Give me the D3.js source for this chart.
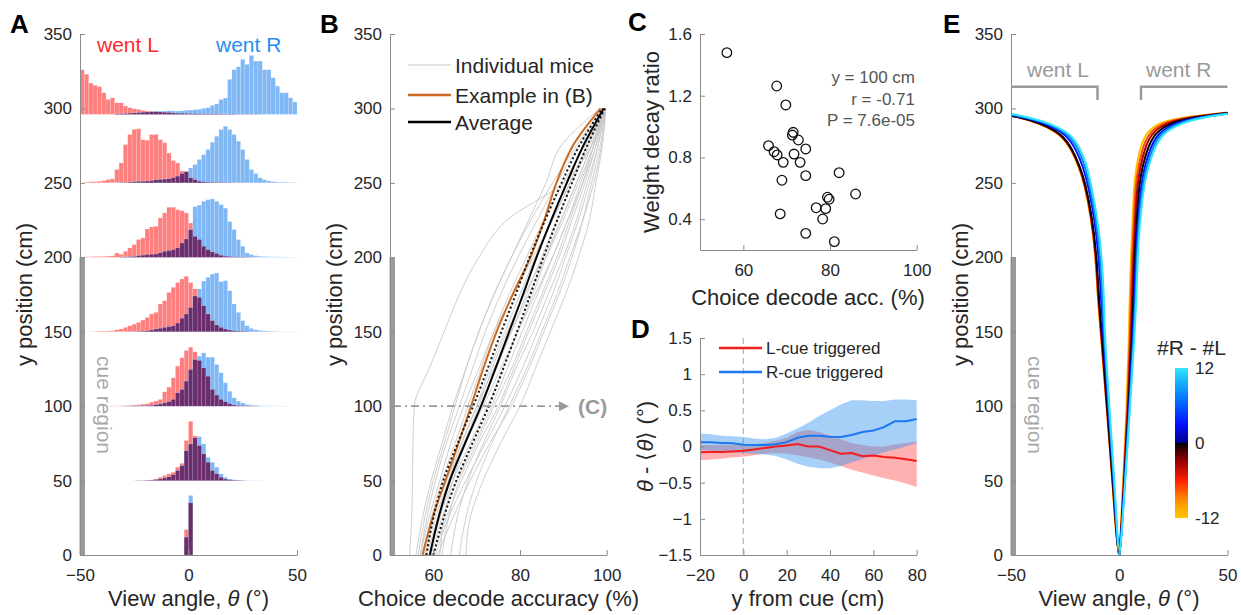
<!DOCTYPE html>
<html>
<head>
<meta charset="utf-8">
<script src="https://cdn.jsdelivr.net/npm/d3@7"></script>
<style>
  body { margin: 0; background: #fff; }
  svg { display: block; font-family: "Liberation Sans", Arial, sans-serif; }
  .axis path, .axis line { stroke: #8c8c8c; stroke-width: 1; }
  .axis text { fill: #262626; }
</style>
</head>
<body>
<svg id="fig" width="1241" height="615"></svg>
<script>
// ---------- panel A: view angle histograms (bins of 2 deg, -50..50) ----------
const rowBase = [0, 50, 100, 150, 200, 250, 296];
const red0 = [0,0,0,0,0,0,0,0,0,0, 0,0,0,0,0,0,0,0,0,0, 0,0,0,0,17,35,0,0,0,0, 0,0,0,0,0,0,0,0,0,0, 0,0,0,0,0,0,0,0,0,0];
const blue0 = [0,0,0,0,0,0,0,0,0,0, 0,0,0,0,0,0,0,0,0,0, 0,0,0,0,12,40,0,0,0,0, 0,0,0,0,0,0,0,0,0,0, 0,0,0,0,0,0,0,0,0,0];
const red50 = [0,0,0,0,0,0,0,0,0,0, 0,0,0.1,0.1,0.2,0.3,0.5,1.1,2.2,3.4, 4.5,5.6,9,11.6,26.9,39.8,30,23.5,17.9,12.3, 6.7,4.5,2.2,1,0.5,0.3,0.2,0.1,0,0, 0,0,0,0,0,0,0,0,0,0];
const blue50 = [0,0,0,0,0,0,0,0,0,0, 0,0,0,0.1,0.1,0.2,0.3,0.7,1.1,1.8, 2.5,4,6.7,10,20,24.6,28.7,29.5,24.6,15.7, 12.3,9,4.5,2.2,1,0.6,0.4,0.3,0.2,0.1, 0.1,0.1,0,0,0,0,0,0,0,0];
const red100 = [0,0,0,0,0,0.1,0.1,0.2,0.2,0.3, 0.4,0.5,0.7,1,1.3,1.6,2.7,3.4,4.5,9.6, 12.8,19,26.9,32.5,37.4,39.6,36.5,30.7,25.7,20.1, 11.2,7.4,4.5,2.9,1.6,0.7,0.4,0.3,0.2,0.1, 0.1,0,0,0,0,0,0,0,0,0];
const blue100 = [0,0,0,0,0,0,0,0,0,0, 0.1,0.1,0.2,0.2,0.3,0.4,0.6,1,1.5,2.2, 3,4.5,9,11.2,16.8,24.6,31.3,33.6,35.8,32.9, 32.9,28,22.4,15.7,10,5.6,3.4,2.2,1.1,0.7, 0.5,0.4,0.3,0.2,0.2,0.1,0.1,0.1,0,0];
const red150 = [0,0,0.1,0.2,0.3,0.4,0.5,0.7,1.3,1.8, 2.9,4,5.1,6.3,7.8,9.6,11.9,13,18.6,20.8, 26.4,29.8,33,35.4,37.2,33,28.7,23,17.5,11.9, 7.4,4.5,2.9,1.8,1.1,0.6,0.4,0.3,0.2,0.1, 0.1,0,0,0,0,0,0,0,0,0];
const blue150 = [0,0,0,0,0,0,0,0,0,0, 0,0.1,0.1,0.2,0.3,0.7,1.2,1.8,2.3,2.9, 3.4,4,5.8,9,11.9,16.3,24,28.7,34,36.5, 38.7,39.4,33.6,34.3,27.5,18.6,13,7.4,4,2.2, 1.3,0.9,0.6,0.4,0.3,0.2,0.1,0.1,0.1,0.1];
const red200 = [0.3,0.3,0.4,0.5,0.5,0.6,0.8,1,2.9,2, 4,6.3,8.5,11.9,13,19,20.4,20.8,26.4,29.8, 33.6,33.6,32,31.3,29.8,23,14,11.9,7.4,5.1, 3.6,2.5,1.4,0.7,0.5,0.3,0.2,0.2,0.1,0.1, 0,0,0,0,0,0,0,0,0,0];
const blue200 = [0,0,0,0,0,0,0,0,0,0.2, 0.3,0.4,0.5,1.1,1.4,1.8,2,2.2,3,4, 4.5,5.1,6.3,9.6,12.3,18.6,34,35,37.6,38.7, 39.2,37.6,35.4,33,24,18.6,11.9,7.4,2.9,1.8, 1.1,0.7,0.5,0.4,0.3,0.3,0.2,0.2,0.1,0.1];
const red250 = [0,0.5,0.8,0.8,1,1.5,2.2,2.7,9,13.4, 25.7,32.5,36,36.4,29,28.6,32.5,32.5,29,27, 20,15,13.4,8,7.5,3.4,2.2,1.1,0.7,0.5, 0.4,0.3,0.3,0.2,0.2,0.1,0.1,0,0,0, 0,0,0,0,0,0,0,0,0,0];
const blue250 = [0,0,0,0,0,0,0,0,0.1,0.2, 0.3,0.5,0.7,1,1,1.2,1.5,2,2.2,2.5, 2.7,3.5,4.5,6.3,7.5,10,12.3,15.7,19,22.4, 27.3,31.3,35.8,38,35.8,32.5,28,22.4,15.7,9, 6.3,3.4,2.2,1.3,0.9,0.6,0.5,0.4,0.3,0.2];
const red300 = [30,27,21,19.5,18.6,14.5,10,11.2,7.8,7.8, 5.6,4.5,3.8,3.4,2.7,2.2,2,1.8,1.6,1.4, 1.2,1,0.8,0.7,0.6,0.5,0.5,0.4,0.4,0.3, 0.3,0.3,0.2,0.2,0.2,0.2,0.1,0.1,0.1,0.1, 0.1,0,0,0,0,0,0,0,0,0];
const blue300 = [0,0,0,0,0,0,0,0,0.3,0.4, 0.6,0.8,1,1.2,1.4,1.6,1.8,2,2.2,2.2, 2.4,2.4,2.2,2.4,2.7,2.9,3.2,3.4,4,4.5, 6,7,10,11,23.5,30,32,37,33.6,39.6, 35.8,35.8,30,30,24.6,19,14.5,14.5,11.2,8.3];
const redRows = [red0, red50, red100, red150, red200, red250, red300];
const blueRows = [blue0, blue50, blue100, blue150, blue200, blue250, blue300];

// ---------- panel B: choice decode accuracy vs y ----------
const yLevB = [0, 25, 50, 75, 100, 125, 150, 175, 200, 225, 250, 275, 300];
const mice = [
  [54.5, 55, 55.2, 55.3, 55.6, 59, 62.5, 66, 70.5, 77, 90, 96.5, 99.5],
  [56, 57.5, 59.5, 62, 64.5, 67.5, 70.5, 74, 78, 82.5, 87.5, 93, 99],
  [57, 58.5, 60.5, 63, 66, 69, 72, 75.5, 79.5, 84, 88.5, 93.5, 99],
  [57.5, 59.5, 62, 65, 68, 71, 74, 77.5, 81.5, 85.5, 90, 95, 99.5],
  [58, 60, 63, 66.5, 70, 73, 76.5, 80, 83.5, 87.5, 91.5, 95.5, 99.5],
  [58.5, 61, 64, 67.5, 71, 74.5, 78, 81.5, 85, 88.5, 92, 96, 99.5],
  [59, 61.5, 64.5, 68.5, 72.5, 76, 79.5, 83, 86, 89.5, 93, 96.5, 99.5],
  [59.5, 62, 65.5, 69.5, 73.5, 77, 80.5, 84, 87.5, 91, 94, 97, 99.5],
  [60, 63, 66.5, 70.5, 75, 78.5, 82, 85.5, 89, 92, 95, 97.5, 99.5],
  [60.5, 63.5, 67.5, 72, 76.5, 80.5, 84, 87.5, 90.5, 93.5, 96, 98, 99.7],
  [61, 64.5, 68.5, 73, 78, 82, 85.5, 89, 92, 94.5, 96.5, 98.5, 99.7],
  [62, 63.5, 66, 70, 74, 78, 81.5, 85, 88.5, 91.5, 94.5, 97, 99.5],
  [64, 65.5, 68, 71.5, 75.5, 79, 83, 86.5, 90, 93, 95.5, 98, 99.7],
  [66, 67.5, 70, 73.5, 77.5, 81.5, 85, 88.5, 91.5, 94.5, 97, 98.8, 99.8],
  [67.5, 68.5, 71.5, 75.5, 80, 83.5, 87, 90.5, 93.5, 96, 97.5, 99, 99.8],
  [57, 59, 61.5, 64, 67, 70.5, 74, 78.5, 83, 87.5, 91.5, 95.5, 99.5],
  [58, 60.5, 63.5, 67, 70.5, 73.5, 77, 81, 85.5, 89.5, 93, 96.5, 99.5],
  [56.5, 58, 60, 62.5, 65, 67.5, 70.5, 74, 78, 82, 86, 89.5, 98.5],
  [59, 61, 63.5, 66.5, 70, 74, 78, 82, 86, 90, 93.5, 97, 99.7],
  [61.5, 62.5, 64.5, 67.5, 71.5, 75.5, 79.5, 83.5, 87.5, 91, 94.5, 97.5, 99.7]
];
const exampleB = [57.5, 59.8, 62.8, 65.8, 68.7, 71.5, 74.6, 78.3, 82.4, 85.6, 88.4, 92.2, 98.6];
const avgB = [59.2, 61.2, 63.8, 67.3, 71.0, 74.3, 77.5, 80.7, 83.8, 87.2, 90.8, 94.6, 99.3];
const semB = [0.8, 1.2, 1.5, 1.7, 1.8, 1.8, 1.8, 1.7, 1.6, 1.4, 1.2, 0.9, 0.3];

// ---------- panel C: weight decay ratio vs decode accuracy ----------
const accC = [56.2, 67.7, 69.8, 71.5, 71.3, 72.7, 65.8, 74.4, 67.1, 67.8, 71.7, 69.2, 73.1, 74.4, 82.1, 68.9, 85.9, 79.4, 79.8, 76.8, 79.0, 78.3, 68.5, 74.4, 81.0];
const ratioC = [1.479, 1.263, 1.14, 0.963, 0.945, 0.913, 0.876, 0.855, 0.837, 0.816, 0.822, 0.768, 0.768, 0.682, 0.701, 0.652, 0.563, 0.542, 0.529, 0.474, 0.468, 0.401, 0.434, 0.308, 0.254];
const statsC = ["y = 100 cm", "r = -0.71", "P = 7.6e-05"];

// ---------- panel D: cue-triggered view angle ----------
const yCue = [-20, -15, -10, -5, 0, 5, 10, 15, 20, 25, 30, 35, 40, 45, 50, 55, 60, 65, 70, 75, 80];
const lMean = [-0.078, -0.077, -0.075, -0.068, -0.06, -0.04, -0.02, 0, 0.015, 0.033, 0, 0, -0.05, -0.1, -0.09, -0.135, -0.125, -0.145, -0.155, -0.175, -0.2];
const lHi = [0.02, 0.02, 0.02, 0.02, 0.02, 0.03, 0.05, 0.08, 0.12, 0.2, 0.23, 0.2, 0.15, 0.1, 0.05, 0.02, 0, 0, 0.03, 0.05, 0.07];
const lLo = [-0.19, -0.18, -0.17, -0.15, -0.14, -0.12, -0.1, -0.09, -0.1, -0.12, -0.15, -0.18, -0.22, -0.27, -0.32, -0.36, -0.4, -0.44, -0.47, -0.51, -0.56];
const rMean = [0.06, 0.058, 0.05, 0.045, 0.025, 0.02, 0.02, 0.03, 0.06, 0.12, 0.15, 0.15, 0.135, 0.13, 0.16, 0.2, 0.22, 0.27, 0.35, 0.35, 0.38];
const rHi = [0.18, 0.17, 0.15, 0.14, 0.13, 0.11, 0.1, 0.12, 0.18, 0.25, 0.33, 0.42, 0.5, 0.58, 0.64, 0.64, 0.63, 0.63, 0.65, 0.65, 0.64];
const rLo = [-0.05, -0.06, -0.07, -0.08, -0.09, -0.1, -0.11, -0.13, -0.18, -0.24, -0.28, -0.3, -0.3, -0.27, -0.22, -0.17, -0.13, -0.08, -0.04, 0, 0.05];

// ---------- panel E: mean view angle by evidence ----------
const yLevE = [0, 10, 50, 100, 150, 172, 200, 227, 250, 261, 272, 283, 290, 294, 297.5];
const evidCols = ["#ffc000", "#ff4a00", "#b00000", "#000000", "#0018ff", "#0a84ff", "#2ee6ff"];
const thetaL = [
  [0, -1.3, -3.2, -5.9, -8.6, -9.9, -10.9, -13.0, -16.3, -18.8, -22.0, -27.2, -37, -45, -60],
  [0, -1.3, -3.1, -5.8, -8.5, -9.8, -10.8, -12.9, -16.1, -18.6, -21.8, -26.9, -36.8, -45, -60],
  [0, -1.2, -3.0, -5.7, -8.3, -9.6, -10.6, -12.7, -15.9, -18.4, -21.6, -26.7, -36.5, -45, -60],
  [0, -1.1, -2.9, -5.6, -8.1, -9.4, -10.4, -12.5, -15.7, -18.2, -21.4, -26.4, -36, -44.5, -60],
  [0, -1.0, -2.6, -5.2, -7.5, -8.4, -9.4, -11.5, -14.6, -16.8, -19.8, -24.5, -34.5, -43.5, -58],
  [0, -0.9, -2.4, -4.9, -7.1, -7.7, -8.7, -10.8, -13.9, -15.8, -18.6, -23.2, -33, -42.5, -56],
  [0, -0.8, -2.2, -4.6, -6.8, -7.0, -8.0, -10.1, -13.2, -14.8, -17.6, -22.1, -32, -41.5, -54]
];
const thetaR = [
  [0, 0.5, 1.8, 3.5, 4.5, 4.8, 5.4, 6.2, 6.9, 8.0, 9.4, 12, 17.4, 28, 52],
  [0, 0.6, 2.0, 3.8, 5.0, 5.3, 5.9, 6.8, 7.6, 8.9, 10.5, 13.3, 19.2, 30, 53],
  [0, 0.7, 2.2, 4.1, 5.5, 5.9, 6.5, 7.4, 8.4, 9.8, 11.6, 14.6, 21, 31.5, 53.5],
  [0, 0.8, 2.4, 4.4, 6.0, 6.5, 7.1, 8.1, 9.3, 10.8, 12.8, 16.1, 23, 33, 54],
  [0, 0.85, 2.5, 4.6, 6.4, 7.0, 7.6, 8.7, 10.2, 11.8, 14.0, 17.5, 25, 35, 55],
  [0, 0.9, 2.65, 4.8, 6.8, 7.5, 8.1, 9.2, 10.9, 12.7, 15.0, 18.6, 26.7, 36.5, 55.5],
  [0, 1.0, 2.8, 5.0, 7.2, 7.9, 8.5, 9.7, 11.6, 13.5, 15.9, 19.7, 28.2, 38, 56]
];
const cbVals = [-12, -9, -6, -3, 0, 0, 3, 6, 9, 12];
const cbCols = ["#ffc800", "#ff8a00", "#ff2000", "#9a0000", "#000000", "#00008a", "#0010ff", "#005cff", "#10a0ff", "#30e8ff"];

// ---------- drawing ----------
const svg = d3.select("#fig");
const GREY = "#9a9a9a";

function leftAxis(scale, ticks, x, fmt) {
  svg.append("g").attr("class", "axis").attr("transform", `translate(${x},0)`)
    .call(d3.axisLeft(scale).tickValues(ticks).tickSizeInner(-5).tickSizeOuter(0).tickPadding(8).tickFormat(fmt || d3.format("")))
    .attr("font-size", 17).attr("font-family", null);
}
function bottomAxis(scale, ticks, y, fmt) {
  svg.append("g").attr("class", "axis").attr("transform", `translate(0,${y})`)
    .call(d3.axisBottom(scale).tickValues(ticks).tickSizeInner(-5).tickSizeOuter(0).tickPadding(14).tickFormat(fmt || d3.format("")))
    .attr("font-size", 17).attr("font-family", null);
}
function label(x, y, parts, opts = {}) {
  const t = svg.append("text").attr("x", x).attr("y", y)
    .attr("font-size", opts.size || 22).attr("fill", opts.fill || "#262626")
    .attr("text-anchor", opts.anchor || "middle");
  if (opts.bold) t.attr("font-weight", "bold");
  if (opts.rot) t.attr("transform", `rotate(${opts.rot},${x},${y})`);
  parts.forEach(p => {
    const s = t.append("tspan").text(Array.isArray(p) ? p[0] : p);
    if (Array.isArray(p) && p[1]) s.attr("font-style", "italic");
  });
  return t;
}
function cueBar(xs, ys) {
  svg.append("rect").attr("x", xs.range()[0] - 0.5).attr("y", ys(200))
    .attr("width", 5.5).attr("height", ys(0) - ys(200)).attr("fill", GREY);
}

const yPos = d3.scaleLinear().domain([0, 350]).range([555, 34]);
const yTicks = [0, 50, 100, 150, 200, 250, 300, 350];

// ----- A -----
const xA = d3.scaleLinear().domain([-50, 50]).range([80, 297]);
const binLo = d3.range(-50, 50, 2);
const gA = svg.append("g");
rowBase.forEach((b, r) => {
  const red = redRows[r], blue = blueRows[r];
  const bars = binLo.map((lo, i) => ({ lo, red: red[i], blue: blue[i], both: Math.min(red[i], blue[i]) }))
    .filter(d => d.red > 0 || d.blue > 0);
  [["red", "#ff7f7f"], ["blue", "#80b8f6"], ["both", "#6b2d6b"]].forEach(([k, col]) => {
    gA.selectAll(null).data(bars.filter(d => d[k] > 0)).join("rect")
      .attr("x", d => xA(d.lo)).attr("width", d => xA(d.lo + 2) - xA(d.lo))
      .attr("y", d => yPos(b + d[k])).attr("height", d => yPos(b) - yPos(b + d[k]))
      .attr("fill", col).attr("stroke", "#fff").attr("stroke-opacity", 0.35).attr("stroke-width", 0.4);
  });
});
cueBar(xA, yPos);
leftAxis(yPos, yTicks, 80);
bottomAxis(xA, [-50, 0, 50], 555);
label(97, 52, ["went L"], { anchor: "start", size: 21, fill: "#ff2b2b" });
label(216, 52, ["went R"], { anchor: "start", size: 21, fill: "#2a8cf0" });
label(97, 405, ["cue region"], { rot: 90, size: 21, fill: "#a8a8a8" });
label(32, 294.5, ["y position (cm)"], { rot: -90 });
label(188.5, 606, ["View angle, ", ["θ", true], " (°)"]);
label(10, 33, ["A"], { anchor: "start", size: 26, bold: true, fill: "#000" });

// ----- B -----
const xB = d3.scaleLinear().domain([50, 100]).range([390, 606.7]);
const lineB = d3.line().x(d => xB(d[0])).y(d => yPos(d[1])).curve(d3.curveMonotoneY);
const zipB = arr => arr.map((v, i) => [v, yLevB[i]]);
mice.forEach(m => svg.append("path").attr("d", lineB(zipB(m)))
  .attr("fill", "none").attr("stroke", "#c8c8c8").attr("stroke-width", 0.9));
svg.append("path").attr("d", lineB(zipB(exampleB))).attr("fill", "none").attr("stroke", "#cc6a1f").attr("stroke-width", 2);
[-1, 1].forEach(s => svg.append("path").attr("d", lineB(zipB(avgB.map((v, i) => v + s * semB[i]))))
  .attr("fill", "none").attr("stroke", "#111").attr("stroke-width", 2).attr("stroke-dasharray", "2,2.5"));
svg.append("path").attr("d", lineB(zipB(avgB))).attr("fill", "none").attr("stroke", "#000").attr("stroke-width", 2);
cueBar(xB, yPos);
leftAxis(yPos, yTicks, 390);
bottomAxis(xB, [60, 80, 100], 555);
svg.append("line").attr("x1", 393).attr("x2", 560).attr("y1", yPos(100)).attr("y2", yPos(100))
  .attr("stroke", GREY).attr("stroke-width", 1.6).attr("stroke-dasharray", "8,4,2,4");
svg.append("path").attr("d", `M559,${yPos(100) - 5}L569,${yPos(100)}L559,${yPos(100) + 5}Z`).attr("fill", GREY);
label(578, 414, ["(C)"], { anchor: "start", size: 21, bold: true, fill: GREY });
const legB = [["Individual mice", "#c8c8c8", 1, 65], ["Example in (B)", "#cc6a1f", 2.5, 95], ["Average", "#000", 2.5, 122]];
legB.forEach(([t, c, w, y]) => {
  svg.append("line").attr("x1", 408).attr("x2", 451).attr("y1", y).attr("y2", y).attr("stroke", c).attr("stroke-width", w);
  label(455, y + 7.5, [t], { anchor: "start", size: 21 });
});
label(342, 294.5, ["y position (cm)"], { rot: -90 });
label(498.5, 606, ["Choice decode accuracy (%)"]);
label(320, 33, ["B"], { anchor: "start", size: 26, bold: true, fill: "#000" });

// ----- C -----
const xC = d3.scaleLinear().domain([50, 100]).range([700, 916.7]);
const yC = d3.scaleLinear().domain([0.2, 1.6]).range([250, 34]);
leftAxis(yC, [0.4, 0.8, 1.2, 1.6], 700, d3.format(".1f"));
bottomAxis(xC, [60, 80, 100], 250);
svg.append("g").selectAll("circle").data(accC.map((a, i) => [a, ratioC[i]])).join("circle")
  .attr("cx", d => xC(d[0])).attr("cy", d => yC(d[1])).attr("r", 4.8)
  .attr("fill", "none").attr("stroke", "#111").attr("stroke-width", 1.3);
statsC.forEach((s, i) => label(915, 83 + i * 21.5, [s], { anchor: "end", size: 17, fill: "#555" }));
label(659, 142, ["Weight decay ratio"], { rot: -90 });
label(808, 305, ["Choice decode acc. (%)"]);
label(628, 31, ["C"], { anchor: "start", size: 26, bold: true, fill: "#000" });

// ----- D -----
const xD = d3.scaleLinear().domain([-20, 80]).range([700, 916.7]);
const yD = d3.scaleLinear().domain([-1.5, 1.5]).range([555, 338]);
const areaD = (lo, hi) => d3.area().x((d, i) => xD(yCue[i])).y0((d, i) => yD(lo[i])).y1((d, i) => yD(hi[i]))(yCue);
const lineD = vals => d3.line().x((d, i) => xD(yCue[i])).y(d => yD(d))(vals);
svg.append("line").attr("x1", xD(0)).attr("x2", xD(0)).attr("y1", 338).attr("y2", 555)
  .attr("stroke", "#b4b4b4").attr("stroke-width", 1.2).attr("stroke-dasharray", "6,4");
svg.append("path").attr("d", areaD(lLo, lHi)).attr("fill", "#ff5050").attr("fill-opacity", 0.45);
svg.append("path").attr("d", areaD(rLo, rHi)).attr("fill", "#3c96f0").attr("fill-opacity", 0.45);
svg.append("path").attr("d", lineD(lMean)).attr("fill", "none").attr("stroke", "#f21d1d").attr("stroke-width", 2);
svg.append("path").attr("d", lineD(rMean)).attr("fill", "none").attr("stroke", "#1a78f0").attr("stroke-width", 2);
leftAxis(yD, [-1.5, -1, -0.5, 0, 0.5, 1, 1.5], 700, d => d3.format("")(d));
bottomAxis(xD, [-20, 0, 20, 40, 60, 80], 555);
[["L-cue triggered", "#f21d1d", 348], ["R-cue triggered", "#1a78f0", 372]].forEach(([t, c, y]) => {
  svg.append("line").attr("x1", 719).attr("x2", 762).attr("y1", y).attr("y2", y).attr("stroke", c).attr("stroke-width", 2.5);
  label(766, y + 6, [t], { anchor: "start", size: 17 });
});
label(653, 446.5, [["θ", true], " - ⟨", ["θ", true], "⟩ (°)"], { rot: -90 });
label(808, 606, ["y from cue (cm)"]);
label(631, 338, ["D"], { anchor: "start", size: 26, bold: true, fill: "#000" });

// ----- E -----
const xE = d3.scaleLinear().domain([-50, 50]).range([1011, 1227.5]);
svg.append("clipPath").attr("id", "clipE").append("rect")
  .attr("x", 1011).attr("y", 34).attr("width", 216.5).attr("height", 521);
const lineE = d3.line().x(d => xE(d[0])).y(d => yPos(d[1])).curve(d3.curveBasis);
const gE = svg.append("g").attr("clip-path", "url(#clipE)");
[thetaL, thetaR].forEach(side => side.forEach((th, j) => {
  gE.append("path").attr("d", lineE(th.map((v, i) => [v, yLevE[i]])))
    .attr("fill", "none").attr("stroke", evidCols[j]).attr("stroke-width", 2);
}));
cueBar(xE, yPos);
leftAxis(yPos, yTicks, 1011);
bottomAxis(xE, [-50, 0, 50], 555);
svg.append("path").attr("d", "M1011,86.7H1097.5V100").attr("fill", "none").attr("stroke", GREY).attr("stroke-width", 2.5);
svg.append("path").attr("d", "M1141,100V86.7H1227.5").attr("fill", "none").attr("stroke", GREY).attr("stroke-width", 2.5);
label(1027, 76.5, ["went L"], { anchor: "start", size: 21, fill: GREY });
label(1146, 76.5, ["went R"], { anchor: "start", size: 21, fill: GREY });
label(1028, 405, ["cue region"], { rot: 90, size: 21, fill: "#a8a8a8" });
// colour bar
const grad = svg.append("defs").append("linearGradient").attr("id", "cbar")
  .attr("x1", 0).attr("y1", 1).attr("x2", 0).attr("y2", 0);
cbVals.forEach((v, i) => grad.append("stop").attr("offset", (v + 12) / 24).attr("stop-color", cbCols[i]));
const yCb = d3.scaleLinear().domain([-12, 12]).range([518, 368]);
svg.append("rect").attr("x", 1175).attr("y", yCb(12)).attr("width", 13).attr("height", yCb(-12) - yCb(12)).attr("fill", "url(#cbar)");
[12, 0, -12].forEach(v => label(1195, yCb(v) + 6, [String(v)], { anchor: "start", size: 17 }));
label(1157, 355, ["#R - #L"], { anchor: "start", size: 21 });
label(968, 294.5, ["y position (cm)"], { rot: -90 });
label(1119, 606, ["View angle, ", ["θ", true], " (°)"]);
label(943, 33, ["E"], { anchor: "start", size: 26, bold: true, fill: "#000" });
</script>
</body>
</html>
